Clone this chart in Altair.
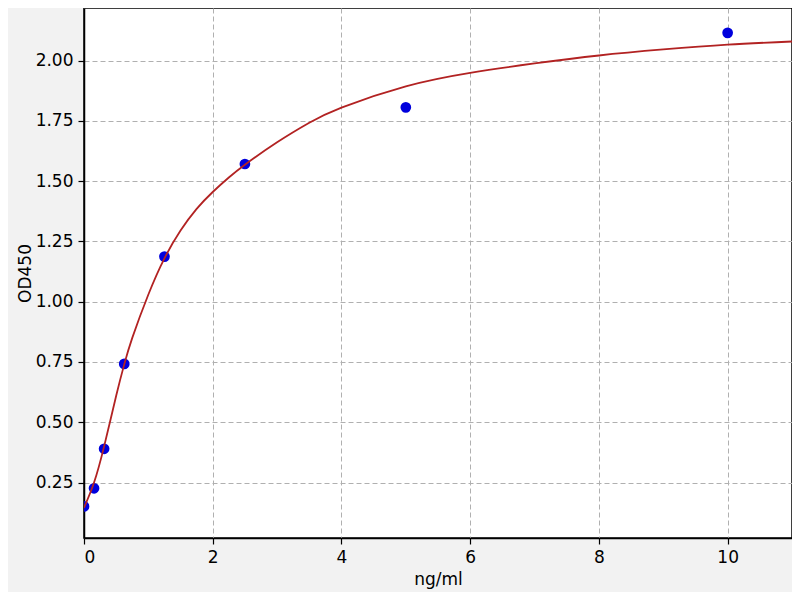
import pandas as pd
import altair as alt

# standard points
conc = [0, 0.156, 0.3125, 0.625, 1.25, 2.5, 5, 10]
od = [0.151, 0.226, 0.39, 0.742, 1.187, 1.571, 1.806, 2.115]

# fitted curve at several x positions
curve_x = [0, 0.156, 0.3125, 0.5, 0.625, 0.75, 1.0, 1.25, 1.5, 1.75, 2.0, 2.25,
           2.5, 3.0, 3.5, 4.0, 5.0, 6.0, 7.0, 8.0, 9.0, 10.0, 11.0]
curve_y = [0.145, 0.25, 0.40, 0.61, 0.74, 0.85, 1.03, 1.18, 1.295, 1.385, 1.455, 1.515,
           1.568, 1.661, 1.742, 1.805, 1.893, 1.949, 1.988, 2.021, 2.046, 2.066, 2.079]

y_ticks = [0.25, 0.5, 0.75, 1.0, 1.25, 1.5, 1.75, 2.0]
x_ticks = [0, 2, 4, 6, 8, 10]

df_pts = pd.DataFrame({'conc': conc, 'od': od})
df_curve = pd.DataFrame({'conc': curve_x, 'od': curve_y})

font = 'DejaVu Sans'

x_enc = alt.X('conc:Q', title='ng/ml',
              scale=alt.Scale(domain=[0, 11], nice=False, zero=False),
              axis=alt.Axis(values=x_ticks, format='d', titlePadding=6))
y_enc = alt.Y('od:Q', title='OD450',
              scale=alt.Scale(domain=[0.02, 2.218], nice=False, zero=False),
              axis=alt.Axis(values=y_ticks, format='.2f', titlePadding=1))

points = alt.Chart(df_pts).mark_circle(size=115, color='#0000dd', opacity=1, clip=True).encode(
    x=x_enc,
    y=y_enc
)

curve = alt.Chart(df_curve).mark_line(color='#b22222', strokeWidth=1.8, interpolate='natural', clip=True).encode(
    x='conc:Q',
    y='od:Q'
)

chart = alt.layer(points, curve).properties(
    width=708,
    height=530,
    autosize=alt.AutoSizeParams(type='none'),
    padding={'left': 76, 'top': 0, 'right': 0, 'bottom': 54},
    background='#f2f2f2'
).configure_view(
    fill='white',
    stroke='black',
    strokeWidth=1.5
).configure_axis(
    domain=True,
    domainColor='black',
    domainWidth=1.5,
    grid=True,
    gridColor='#b0b0b0',
    gridDash=[5, 3],
    gridWidth=1,
    ticks=True,
    tickColor='black',
    tickSize=6,
    tickWidth=1.2,
    labelFont=font,
    labelFontSize=17,
    labelColor='black',
    labelPadding=5,
    titleFont=font,
    titleFontSize=17,
    titleFontWeight='normal',
    titleColor='black'
)

chart.save('out.html', embed_options={"renderer": "svg", "actions": False})
